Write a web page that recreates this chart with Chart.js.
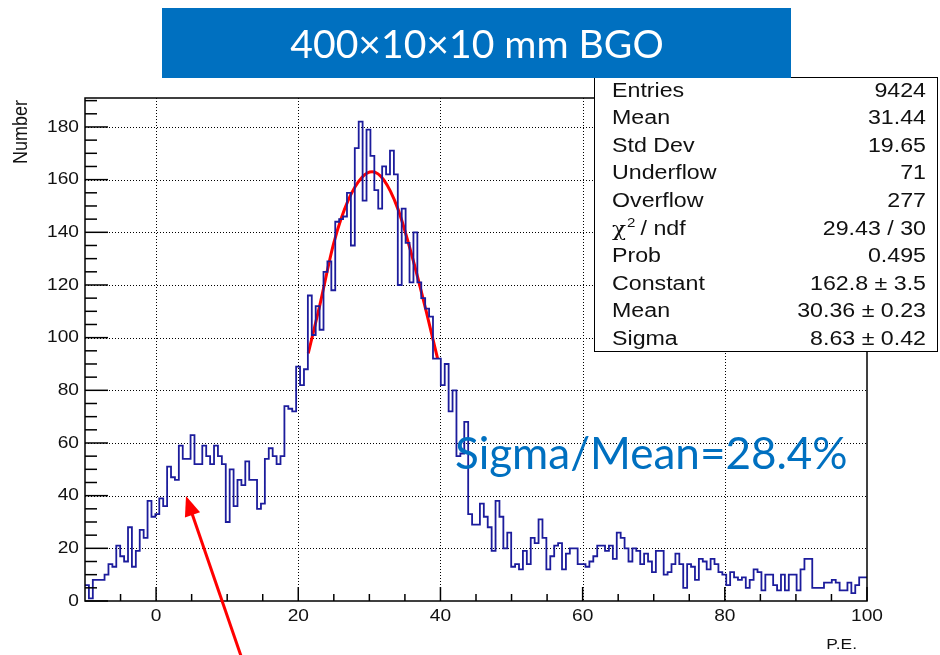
<!DOCTYPE html>
<html>
<head>
<meta charset="utf-8">
<script src="https://cdn.jsdelivr.net/npm/chart.js@4.4.0/dist/chart.umd.min.js"></script>
<style>
  html, body { margin: 0; padding: 0; background: #fff; }
  canvas { display: block; }
</style>
</head>
<body>
<canvas id="histo" width="940" height="655"></canvas>
<script>
// histogram binning (ROOT style: 200 bins from -10 to 100)
const binLow = -10;
const binWidth = 0.55;
// bin contents
const counts = [
  6, 1, 8, 8, 8, 10, 14, 13, 21, 17,
  15, 28, 13, 19, 27, 24, 38, 32, 33, 39,
  36, 51, 47, 46, 59, 54, 54, 63, 52, 52,
  59, 55, 52, 59, 55, 52, 30, 50, 36, 46,
  44, 53, 46, 46, 35, 37, 54, 58, 55, 52,
  55, 74, 73, 72, 89, 82, 88, 116, 101, 112,
  103, 125, 129, 118, 144, 145, 146, 155, 135, 172,
  182, 152, 179, 169, 156, 149, 165, 162, 171, 162,
  120, 149, 136, 121, 140, 121, 115, 111, 108, 92,
  92, 82, 90, 72, 80, 55, 56, 68, 33, 29,
  29, 37, 32, 28, 19, 38, 32, 20, 26, 13,
  14, 12, 19, 14, 24, 22, 31, 24, 12, 17,
  21, 22, 12, 18, 20, 20, 14, 14, 13, 15,
  17, 21, 21, 19, 21, 16, 26, 24, 20, 15,
  20, 19, 14, 18, 15, 11, 19, 19, 10, 11,
  14, 18, 14, 5, 14, 13, 8, 16, 15, 12,
  16, 14, 11, 10, 6, 11, 9, 8, 9, 5,
  8, 12, 11, 4, 10, 10, 6, 4, 10, 4,
  10, 10, 4, 12, 16, 16, 5, 5, 5, 7,
  7, 8, 7, 4, 4, 7, 3, 6, 9, 9
];
// gaussian fit curve
const fitX = [21.4, 23, 25, 27, 29, 30.4, 32, 34, 36, 38, 39.6];
const fitY = [94, 112, 136, 152, 161, 163, 160, 149, 131, 110, 92];
const xTickLabels = [0, 20, 40, 60, 80, 100];
const yTickLabels = [0, 20, 40, 60, 80, 100, 120, 140, 160, 180];
const statNames = ['Entries', 'Mean', 'Std Dev', 'Underflow', 'Overflow', 'chi2', 'Prob', 'Constant', 'Mean', 'Sigma'];
const statValues = ['9424', '31.44', '19.65', '71', '277', '29.43 / 30', '0.495', '162.8 \u00b1 3.5', '30.36 \u00b1 0.23', '8.63 \u00b1 0.42'];
const titleText = '400\u00d710\u00d710 mm BGO';
const noteText = 'Sigma/Mean=28.4%';

const histPoints = [];
counts.forEach((c, i) => {
  const x0 = binLow + i * binWidth;
  histPoints.push({x: x0, y: c});
  histPoints.push({x: x0 + binWidth, y: c});
});
const fitPoints = fitX.map((x, i) => ({x: x, y: fitY[i]}));

const labelFont = '"Liberation Sans", Arial, sans-serif';
const stretch = 1.16; // the slide squeezes the ROOT canvas a bit vertically

// fit a string to a width by scaling the font size
const fitFont = (ctx, text, family, width) => {
  ctx.font = '40px ' + family;
  const w = ctx.measureText(text).width;
  return (40 * width / w).toFixed(1) + 'px ' + family;
};

const wideText = (ctx, text, x, y, align) => {
  ctx.save();
  ctx.translate(x, y);
  ctx.scale(stretch, 1);
  ctx.textAlign = align;
  ctx.fillText(text, 0, 0);
  ctx.restore();
};

const rootFrame = {
  id: 'rootFrame',
  beforeDatasetsDraw(chart) {
    const {ctx, chartArea: a, scales: {x, y}} = chart;
    ctx.save();
    ctx.strokeStyle = '#000';
    ctx.lineWidth = 1;
    ctx.setLineDash([1, 2]);
    xTickLabels.forEach((v) => {
      if (v <= binLow || v >= 100) return;
      const px = Math.round(x.getPixelForValue(v)) + 0.5;
      ctx.beginPath(); ctx.moveTo(px, a.top); ctx.lineTo(px, a.bottom); ctx.stroke();
    });
    yTickLabels.forEach((v) => {
      if (v <= 0) return;
      const py = Math.round(y.getPixelForValue(v)) + 0.5;
      ctx.beginPath(); ctx.moveTo(a.left, py); ctx.lineTo(a.right, py); ctx.stroke();
    });
    ctx.restore();
  },
  afterDatasetsDraw(chart) {
    const {ctx, chartArea: a, scales: {x, y}} = chart;
    ctx.save();
    ctx.strokeStyle = '#000';
    ctx.lineWidth = 1.5;
    ctx.strokeRect(a.left, a.top, a.right - a.left, a.bottom - a.top);
    // x ticks, inward
    for (let v = -5; v <= 100; v += 5) {
      const px = x.getPixelForValue(v);
      const len = v % 20 === 0 ? 14 : 7;
      ctx.beginPath(); ctx.moveTo(px, a.bottom); ctx.lineTo(px, a.bottom - len); ctx.stroke();
    }
    // y ticks, inward
    for (let v = 0; v <= 190; v += 5) {
      const py = y.getPixelForValue(v);
      const len = v % 20 === 0 ? 23 : 12;
      ctx.beginPath(); ctx.moveTo(a.left, py); ctx.lineTo(a.left + len, py); ctx.stroke();
    }
    // tick labels
    ctx.fillStyle = '#111';
    ctx.font = '16.5px ' + labelFont;
    ctx.textBaseline = 'middle';
    xTickLabels.forEach((v) => wideText(ctx, String(v), x.getPixelForValue(v), 616, 'center'));
    yTickLabels.forEach((v) => wideText(ctx, String(v), 79, y.getPixelForValue(v), 'right'));
    ctx.restore();
  },
  afterDraw(chart) {
    const {ctx} = chart;
    ctx.save();
    // axis titles
    ctx.fillStyle = '#111';
    ctx.font = '15px ' + labelFont;
    ctx.textBaseline = 'middle';
    wideText(ctx, 'P.E.', 857, 645, 'right');
    ctx.font = '18px ' + labelFont;
    ctx.save();
    ctx.translate(21, 100);
    ctx.rotate(-Math.PI / 2);
    ctx.scale(1, stretch);
    ctx.textAlign = 'right';
    ctx.fillText('Number', 0, 0);
    ctx.restore();

    // stats box
    ctx.fillStyle = '#fff';
    ctx.fillRect(594, 77, 344, 275);
    ctx.strokeStyle = '#000';
    ctx.lineWidth = 1;
    ctx.strokeRect(594.5, 77.5, 343, 274);
    ctx.fillStyle = '#111';
    statNames.forEach((name, i) => {
      const cy = 91 + i * 27.6;
      ctx.font = '20px ' + labelFont;
      if (name === 'chi2') {
        ctx.font = '20px "DejaVu Serif", serif';
        const cw = ctx.measureText('\u03c7').width * stretch;
        wideText(ctx, '\u03c7', 612, cy + 2, 'left');
        ctx.font = '13px ' + labelFont;
        wideText(ctx, '2', 612 + cw + 1, cy - 6, 'left');
        ctx.font = '20px ' + labelFont;
        wideText(ctx, ' / ndf', 612 + cw + 8, cy, 'left');
      } else {
        wideText(ctx, name, 612, cy, 'left');
      }
      wideText(ctx, statValues[i], 926, cy, 'right');
    });

    // title bar
    ctx.fillStyle = '#0070c0';
    ctx.fillRect(162, 8, 629, 70);
    ctx.fillStyle = '#fff';
    ctx.font = fitFont(ctx, titleText, 'Lato, sans-serif', 374);
    ctx.textAlign = 'center';
    ctx.fillText(titleText, 477, 45);

    // resolution note
    ctx.fillStyle = '#0070c0';
    ctx.font = fitFont(ctx, noteText, 'Lato, sans-serif', 393);
    ctx.textAlign = 'left';
    ctx.textBaseline = 'alphabetic';
    ctx.fillText(noteText, 455, 469);

    // red arrow
    const tip = [186, 496], tail = [241, 656];
    const ang = Math.atan2(tip[1] - tail[1], tip[0] - tail[0]);
    ctx.strokeStyle = '#ff0000';
    ctx.fillStyle = '#ff0000';
    ctx.lineWidth = 3;
    ctx.beginPath();
    ctx.moveTo(tail[0], tail[1]);
    ctx.lineTo(tip[0] - 14 * Math.cos(ang), tip[1] - 14 * Math.sin(ang));
    ctx.stroke();
    ctx.beginPath();
    ctx.moveTo(tip[0], tip[1]);
    ctx.lineTo(tip[0] - 20 * Math.cos(ang) + 8 * Math.sin(ang), tip[1] - 20 * Math.sin(ang) - 8 * Math.cos(ang));
    ctx.lineTo(tip[0] - 20 * Math.cos(ang) - 8 * Math.sin(ang), tip[1] - 20 * Math.sin(ang) + 8 * Math.cos(ang));
    ctx.closePath();
    ctx.fill();
    ctx.restore();
  }
};

new Chart(document.getElementById('histo').getContext('2d'), {
  type: 'line',
  data: {
    datasets: [
      {
        label: 'P.E.',
        data: histPoints,
        borderColor: '#1c1c9c',
        borderWidth: 1.8,
        pointRadius: 0,
        tension: 0,
        fill: false
      },
      {
        label: 'fit',
        data: fitPoints,
        borderColor: '#ff0000',
        borderWidth: 3,
        pointRadius: 0,
        cubicInterpolationMode: 'monotone',
        fill: false
      }
    ]
  },
  options: {
    responsive: false,
    animation: false,
    devicePixelRatio: 1,
    layout: { padding: { top: 98, right: 73, left: 0, bottom: 0 } },
    plugins: { legend: { display: false }, tooltip: { enabled: false } },
    scales: {
      x: {
        type: 'linear',
        min: -10,
        max: 100,
        afterFit: (s) => { s.height = 54; },
        afterBuildTicks: (s) => { s.ticks = xTickLabels.map((v) => ({value: v})); },
        grid: { display: false, drawTicks: false },
        border: { display: false },
        ticks: { display: false }
      },
      y: {
        type: 'linear',
        min: 0,
        max: 191,
        afterFit: (s) => { s.width = 85; },
        afterBuildTicks: (s) => { s.ticks = yTickLabels.map((v) => ({value: v})); },
        grid: { display: false, drawTicks: false },
        border: { display: false },
        ticks: { display: false }
      }
    }
  },
  plugins: [rootFrame]
});
</script>
</body>
</html>
